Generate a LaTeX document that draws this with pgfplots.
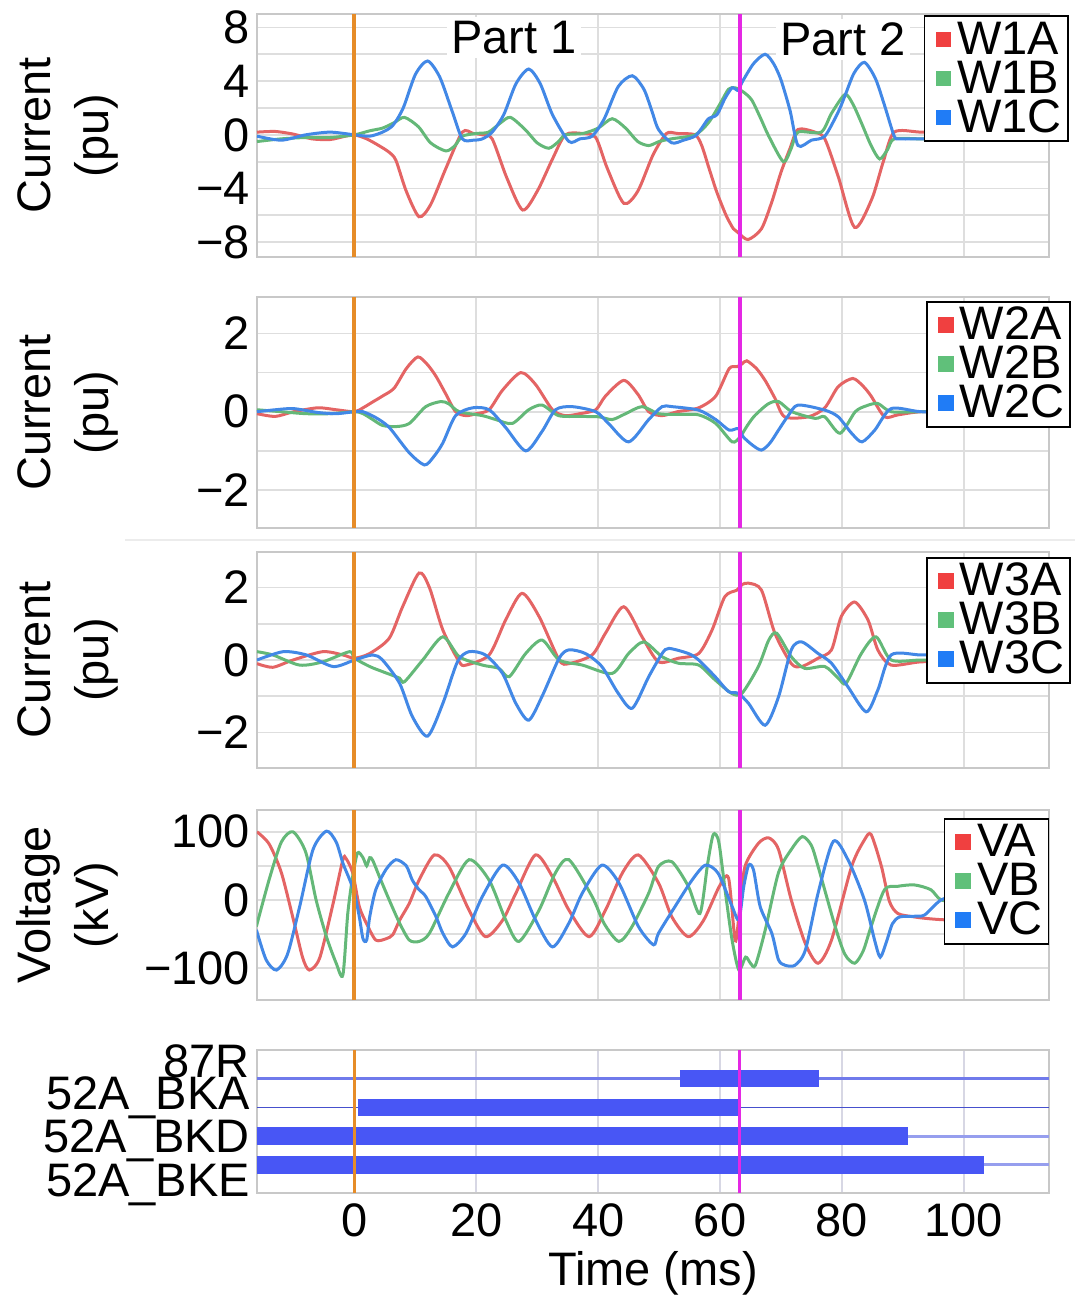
\documentclass[border=0pt]{standalone}
\usepackage{fontspec}
\setmainfont{Liberation Sans}
\usepackage{pgfplots}
\pgfplotsset{compat=1.18}
\definecolor{cR}{RGB}{228,100,100}
\definecolor{cG}{RGB}{100,184,120}
\definecolor{cB}{RGB}{66,136,230}
\definecolor{lR}{RGB}{240,64,64}
\definecolor{lG}{RGB}{96,192,122}
\definecolor{lB}{RGB}{32,124,246}
\definecolor{cO}{RGB}{230,140,40}
\definecolor{cM}{RGB}{228,40,228}
\definecolor{gridc}{RGB}{222,222,222}
\definecolor{framec}{RGB}{200,200,200}
\definecolor{barc}{RGB}{72,86,245}
\definecolor{rowA}{RGB}{112,122,235}
\definecolor{rowB}{RGB}{70,80,205}
\definecolor{rowC}{RGB}{150,158,238}
\definecolor{gridv}{RGB}{215,215,228}
\pgfplotsset{
  panel/.style={
    scale only axis, width=396pt, xmin=-16, xmax=114,
    xtick={0,20,40,60,80,100}, xmajorgrids,
    major tick length=0pt, minor tick length=0pt,
    grid style={draw=gridc, line width=0.9pt},
    minor grid style={draw=gridc, line width=0.9pt},
    axis line style={draw=framec, line width=1.1pt},
    /pgf/number format/assume math mode=true,
    anchor=north west,
    ylabel style={at={(axis description cs:-0.239,0.5)}, anchor=center, align=center, font=\fontsize{23.5}{29}\selectfont},
    legend style={anchor=north west, draw=black, line width=0.8pt, fill=white,
      inner xsep=2pt, inner ysep=2pt,
      nodes={inner xsep=1pt, inner ysep=0pt, text height=17pt, text depth=2.5pt},
      cells={anchor=west}, row sep=0pt},
  },
  curve/.style={smooth, tension=0.45, line width=1.5pt, no marks, forget plot},
  vline/.style={line width=2pt, no marks, forget plot},
  sq/.style={legend image code/.code={\path (-3.5pt,0pt) (9pt,0pt); \fill[#1] (0pt,-3.5pt) rectangle (7pt,3.5pt);}},
}
\begin{document}
\begin{tikzpicture}[font=\fontsize{23.5}{28}\selectfont]
\useasboundingbox (-128.5pt,7pt) rectangle (416pt,-641pt);
\draw[gray!15, line width=1pt] (-66pt,-263pt) -- (409pt,-263pt);
% ---------------- Panel 1
\begin{axis}[panel, at={(0pt,0pt)}, height=121.5pt, ymin=-9.1, ymax=9,
  ytick={-8,-4,0,4,8}, yticklabels={−8,−4,0,4,8}, minor ytick={-6,-2,2,6},
  ymajorgrids, yminorgrids, xticklabels={}, ylabel={Current\\(pu)},
  legend style={at={(0.842,0.995)}}]
\addplot[curve, cR] coordinates {(-16,0.2) (-13,0.25) (-10,0.05) (-7,-0.3) (-4,-0.35) (-1.5,-0.1) (0,0) (2,-0.3) (4,-0.8) (5.7,-1.3) (6.8,-1.9) (8.5,-4.2) (10.6,-6.1) (12.5,-5.2) (15,-2.5) (17.7,0.2) (19.5,0.1) (21,0) (22.6,-0.3) (25,-3.2) (27.6,-5.6) (30,-4.2) (32.5,-1.8) (34.6,0) (37.4,0.1) (39.6,-0.2) (41.5,-2.5) (44.2,-5.1) (46.5,-4.2) (49,-1.5) (51.2,0.1) (53,0.1) (55.9,0) (57,-0.8) (58.2,-2.5) (59.5,-4.3) (61,-6) (62.2,-7.0) (63,-7.3) (64.6,-7.8) (66.8,-7.0) (68.5,-5) (70,-2.8) (71.5,-1) (72.8,0.4) (75.6,0.2) (77.2,-0.3) (79.4,-3.1) (82.1,-6.9) (84.9,-4.8) (86.8,-2) (88.6,0.2) (93,0.2) (100,0.1)};
\addplot[curve, cG] coordinates {(-16,-0.5) (-12,-0.3) (-8,-0.2) (-4,-0.2) (0,0) (2.5,0.3) (4.6,0.5) (6.5,0.9) (8.2,1.3) (10.5,0.6) (12.5,-0.6) (15,-1.2) (16.5,-0.8) (17.7,-0.1) (20,0.1) (22,0.2) (24,0.9) (25.6,1.3) (28,0.4) (30,-0.6) (31.9,-1.0) (33.5,-0.5) (34.6,0) (37.5,0.1) (40,0.5) (42.3,1.2) (44.5,0.5) (46.5,-0.5) (48.3,-0.8) (50,-0.5) (52,-0.3) (55.9,0) (58.1,0.9) (60,2.3) (61.4,3.4) (62.5,3.5) (63.8,3.2) (65.2,2.6) (66.7,1.2) (68,-0.1) (70.4,-2.0) (71.7,-1.0) (72.8,0.2) (76.6,0.2) (78.3,1.6) (80.5,3.0) (81.8,2.3) (83.2,0.9) (84.8,-0.8) (86.2,-1.8) (87.5,-1.1) (88.6,-0.3) (93,-0.3) (100,-0.3)};
\addplot[curve, cB] coordinates {(-16,-0.1) (-12,-0.4) (-8,0) (-4,0.2) (0,0) (2.5,-0.1) (4.6,0.2) (6.3,0.7) (8,2.0) (10,4.5) (12,5.5) (14,4.3) (16,1.8) (17.7,-0.3) (19.5,-0.4) (21,-0.3) (22.6,0.2) (24.5,1.5) (26.5,3.8) (28.6,4.9) (30.5,3.8) (32.5,1.5) (35.2,-0.5) (37,-0.3) (39,-0.1) (41,1.2) (43.3,3.6) (45.6,4.4) (47.5,3.4) (48.8,1.8) (49.9,0.4) (52.1,-0.6) (54,-0.4) (55.9,-0.1) (57,0.5) (58.1,1.2) (59.5,1.5) (60.8,2.7) (62,3.5) (63,3.3) (63.6,3.9) (65.5,5.3) (67.4,6.0) (68.8,5.3) (70,4.1) (71.5,1.8) (72.8,-0.8) (75,-0.4) (77.2,-0.1) (79.4,1.7) (80.5,2.9) (82,4.6) (83.7,5.4) (85.5,4.2) (87,2.2) (88.6,-0.1) (89.5,-0.3) (93,-0.3) (100,-0.3)};
\addplot[vline, cO] coordinates {(0,-9.1) (0,9)};
\addplot[vline, cM] coordinates {(63.2,-9.1) (63.2,9)};
\node[fill=white, inner sep=2pt] at (axis cs:26.2,7.24) {Part 1};
\node[fill=white, inner sep=2pt] at (axis cs:80.2,7.1) {Part 2};
\addlegendimage{sq=lR}
\addlegendentry{W1A}
\addlegendimage{sq=lG}
\addlegendentry{W1B}
\addlegendimage{sq=lB}
\addlegendentry{W1C}
\end{axis}
% ---------------- Panel 2
\begin{axis}[panel, at={(0pt,-141.5pt)}, height=115.5pt, ymin=-2.97, ymax=2.93,
  ytick={-2,0,2}, yticklabels={−2,0,2}, minor ytick={-1,1},
  ymajorgrids, yminorgrids, xticklabels={}, ylabel={Current\\(pu)},
  legend style={at={(0.845,0.983)}}]
\addplot[curve, cR] coordinates {(-16,-0.05) (-13,-0.12) (-10,0) (-6,0.1) (-3,0.05) (0,0) (1.4,0.1) (3,0.25) (4.6,0.4) (6.5,0.6) (8.5,1.1) (10.4,1.4) (12,1.2) (13.4,0.9) (15,0.45) (16.6,0) (18.3,-0.1) (20,-0.05) (22.1,0.05) (24.3,0.55) (27.3,1.0) (29.7,0.7) (32.5,0.05) (34.6,-0.1) (37,-0.05) (39.6,0.05) (41.2,0.4) (44.2,0.8) (46.5,0.45) (48.3,0) (50.5,-0.1) (53,0) (56.5,0.1) (59.3,0.4) (61.5,1.1) (62.8,1.15) (63.6,1.22) (64.4,1.3) (66,1.1) (67.4,0.8) (69,0.35) (70.6,-0.13) (74.5,-0.13) (77.2,0.1) (79.4,0.64) (81.8,0.85) (83.5,0.65) (84.8,0.4) (87,-0.13) (89.2,-0.08) (93,0) (100,0)};
\addplot[curve, cG] coordinates {(-16,0.05) (-12,0) (-8,-0.05) (-4,-0.05) (0,0) (1.4,-0.05) (3,-0.2) (4.6,-0.35) (6.8,-0.38) (9,-0.3) (11.7,0.13) (14.2,0.26) (15.5,0.2) (17.2,0) (21,-0.1) (23.2,-0.2) (25.9,-0.3) (28.6,0.05) (30.8,0.17) (33.5,-0.1) (37,-0.12) (40.1,-0.13) (42.3,-0.2) (44.5,-0.05) (47.2,0.13) (49.9,-0.05) (53,-0.07) (56.5,-0.08) (59.3,-0.3) (62,-0.77) (63.3,-0.64) (64.5,-0.35) (65.7,-0.1) (67.9,0.2) (69.6,0.26) (71.8,0) (75.6,-0.17) (77.2,-0.13) (79.7,-0.55) (82.2,0) (84,0.15) (85.9,0.21) (88.1,0) (93,0) (100,0)};
\addplot[curve, cB] coordinates {(-16,0) (-13,0.05) (-10,0.08) (-6,-0.02) (-3,-0.05) (0,0) (1.4,0) (3.5,-0.15) (5.7,-0.4) (9,-1.05) (11.5,-1.36) (13,-1.15) (14.5,-0.8) (16.6,-0.1) (19.4,0.1) (22.1,0.05) (24.8,-0.4) (28.1,-1.0) (30.8,-0.5) (33,0.05) (35.7,0.13) (39.6,0) (41.7,-0.3) (45,-0.77) (48.3,-0.2) (50.5,0.13) (52.1,0.13) (56.5,0.04) (59.3,-0.2) (61.5,-0.47) (63,-0.43) (63.8,-0.64) (65.3,-0.85) (66.8,-0.98) (68.2,-0.8) (69.6,-0.47) (71.2,-0.1) (72.8,0.17) (77.2,0.04) (79.4,-0.13) (81.6,-0.55) (83.3,-0.77) (85.4,-0.47) (88.1,0.08) (93,0) (100,0)};
\addplot[vline, cO] coordinates {(0,-2.97) (0,2.93)};
\addplot[vline, cM] coordinates {(63.2,-2.97) (63.2,2.93)};
\addlegendimage{sq=lR}
\addlegendentry{W2A}
\addlegendimage{sq=lG}
\addlegendentry{W2B}
\addlegendimage{sq=lB}
\addlegendentry{W2C}
\end{axis}
% ---------------- Panel 3
\begin{axis}[panel, at={(0pt,-269pt)}, height=108pt, ymin=-2.98, ymax=2.98,
  ytick={-2,0,2}, yticklabels={−2,0,2}, minor ytick={-1,1},
  ymajorgrids, yminorgrids, xticklabels={}, ylabel={Current\\(pu)},
  legend style={at={(0.845,0.977)}}]
\addplot[curve, cR] coordinates {(-16,-0.1) (-13.4,-0.2) (-10.1,0) (-5.2,0.23) (-1.9,0.14) (0,0.05) (2.5,0.18) (5.7,0.6) (7.9,1.47) (10.6,2.4) (12.3,2.0) (14.5,0.83) (17.2,-0.05) (18.3,-0.14) (22.1,0.14) (24.8,1.1) (27.5,1.84) (30.3,1.2) (33.6,0) (35.2,-0.1) (39,0.14) (41.2,0.74) (44.2,1.47) (47.2,0.64) (49.9,-0.05) (53.2,0.05) (56.5,0.18) (58.7,0.83) (60.8,1.75) (62.8,1.93) (63.6,2.08) (64.7,2.12) (66.8,1.93) (69,0.74) (71.7,-0.1) (73.4,-0.18) (76.1,0.05) (78.3,0.28) (79.9,1.2) (82.1,1.6) (84.3,1.1) (85.9,0.28) (88.1,-0.14) (93,-0.05) (100,-0.05)};
\addplot[curve, cG] coordinates {(-16,0.23) (-13.4,0.14) (-9,-0.14) (-5.2,-0.05) (-0.8,0.23) (0,0.05) (2.5,-0.18) (4.6,-0.32) (7.4,-0.5) (8.2,-0.6) (11.2,0) (14.5,0.64) (17.2,0.09) (21,-0.14) (23.7,-0.23) (25.4,-0.46) (28.1,0.18) (30.8,0.55) (33.6,0) (37.4,-0.14) (42.3,-0.37) (45,0.18) (47.5,0.5) (50.5,0.09) (53.2,-0.09) (56.5,-0.14) (59.2,-0.55) (61.9,-0.92) (63.6,-0.92) (66.3,-0.18) (68,0.55) (69.3,0.74) (71.7,0.09) (73.9,-0.23) (77.2,-0.18) (79.4,-0.5) (80.7,-0.64) (83.2,0.18) (85.6,0.64) (88.1,0) (93,0) (100,0)};
\addplot[curve, cB] coordinates {(-16,0) (-11.7,0.23) (-7.9,0.14) (-3.5,-0.18) (0,0) (3,0.14) (4.6,0) (7.4,-0.64) (9.5,-1.56) (12,-2.1) (14.5,-1.2) (16.9,-0.05) (18.8,0.23) (21.5,0.14) (24.3,-0.37) (26.5,-1.2) (28.6,-1.66) (30.8,-1.0) (33.6,0.05) (35.2,0.28) (37.9,0.18) (40.6,-0.18) (43.3,-0.92) (45.6,-1.33) (48.3,-0.46) (50.5,0.18) (51.6,0.32) (54.8,0.18) (56.5,0) (59.2,-0.46) (61.4,-0.87) (63,-0.92) (64.7,-1.2) (67.4,-1.8) (69.6,-1.02) (71.7,0.28) (73.4,0.5) (76.1,0.18) (78.3,-0.09) (81,-0.74) (84,-1.43) (85.9,-0.83) (88.1,0.14) (93,0.14) (100,0.14)};
\addplot[vline, cO] coordinates {(0,-2.98) (0,2.98)};
\addplot[vline, cM] coordinates {(63.2,-2.98) (63.2,2.98)};
\addlegendimage{sq=lR}
\addlegendentry{W3A}
\addlegendimage{sq=lG}
\addlegendentry{W3B}
\addlegendimage{sq=lB}
\addlegendentry{W3C}
\end{axis}
% ---------------- Panel 4
\begin{axis}[panel, at={(0pt,-398pt)}, height=95pt, ymin=-147, ymax=132,
  ytick={-100,0,100}, yticklabels={−100,0,100}, minor ytick={-50,50},
  ymajorgrids, yminorgrids, xticklabels={}, ylabel={Voltage\\(kV)},
  legend style={at={(0.867,0.958)}}]
\addplot[curve, cR] coordinates {(-16,100) (-14,82) (-12,40) (-10,-30) (-8.5,-85) (-7.4,-103) (-5.7,-85) (-3.5,-5) (-1.9,59) (-1.4,61) (-0.3,40) (0.8,-10) (2,-35) (3.5,-59) (5.2,-57) (6.3,-51) (7.4,-30) (9,-5) (10.6,29) (13.1,66) (15.5,49) (18.8,-15) (21.5,-54) (24.3,-30) (26.5,10) (29.7,66) (32.5,34) (35.2,-15) (38.5,-54) (41.2,-15) (44,40) (46.6,66) (49.9,25) (52.1,-25) (54.8,-54) (57.3,-30) (59.9,20) (61.4,32) (62.5,-60) (63.2,-15) (64.1,49) (66.3,83) (68,91) (69.6,74) (71.7,0) (74,-64) (76.1,-93) (78.3,-59) (81.6,49) (83.7,88) (84.8,96) (86.5,49) (87.8,-2) (89.2,-20) (91.9,-25) (93.6,-27) (96.3,-29) (100,-30)};
\addplot[curve, cG] coordinates {(-16.1,-39) (-14,30) (-12,85) (-10.1,100) (-8,70) (-6.3,0) (-4.6,-54) (-3,-93) (-1.9,-110) (-1.1,-20) (-0.3,34) (0.5,69) (1.4,62) (2,50) (2.5,62) (3,58) (4.1,34) (5.7,0) (7.4,-34) (9,-59) (10.6,-61) (12.3,-49) (15.5,10) (18.8,59) (22.1,29) (24.8,-29) (27,-61) (30.3,-15) (33,40) (35.2,59) (39,5) (41,-35) (43.4,-61) (45.5,-40) (48.3,10) (49.9,49) (52.1,56) (54.8,20) (56.7,-20) (58,55) (58.9,96) (59.8,85) (60.9,10) (62,-60) (63.1,-103) (64.2,-84) (65,-93) (65.8,-96) (67.4,-45) (69.6,40) (71.7,74) (73.5,93) (75,80) (76.1,49) (78.9,-39) (80.5,-80) (82.1,-93) (83.5,-75) (84.8,-39) (87,15) (89.2,20) (91.9,22) (94.6,15) (96.3,0) (100,-5)};
\addplot[curve, cB] coordinates {(-16.1,-44) (-14.5,-88) (-12.8,-103) (-11,-80) (-9,-10) (-6.8,74) (-4.6,101) (-3,85) (-1.9,54) (-0.8,30) (0,10) (0.8,-25) (1.4,-57) (2,-59) (2.5,-25) (3.5,15) (5.2,45) (6.8,59) (8.5,50) (9.5,29) (10.6,15) (11.7,5) (13.4,-25) (14.5,-49) (16.1,-69) (18.3,-49) (21,5) (24.3,51) (27,25) (29.7,-29) (32.5,-69) (35.2,-34) (37.4,10) (40.6,51) (43.4,25) (46.6,-39) (49.1,-66) (49.9,-49) (52.6,-10) (55.4,29) (57.6,51) (59.7,39) (62,-10) (63.1,-29) (63.9,20) (64.7,51) (65.5,44) (66.6,-10) (68.5,-49) (69.6,-88) (70.7,-96) (72.3,-96) (74,-74) (76.1,10) (78.6,86) (81,59) (83.7,0) (85.4,-60) (86.3,-84) (87.3,-62) (88.3,-35) (89.5,-25) (91.9,-24) (93.6,-22) (96.3,0) (100,10)};
\addplot[vline, cO] coordinates {(0,-147) (0,132)};
\addplot[vline, cM] coordinates {(63.2,-147) (63.2,132)};
\addlegendimage{sq=lR}
\addlegendentry{VA}
\addlegendimage{sq=lG}
\addlegendentry{VB}
\addlegendimage{sq=lB}
\addlegendentry{VC}
\end{axis}
% ---------------- Panel 5
\begin{axis}[panel, at={(0pt,-518pt)}, height=71.5pt, ymin=-0.98, ymax=4.0,
  grid style={draw=gridv, line width=0.9pt},
  ytick={-0.7,0.84,2.33,3.59}, yticklabels={52A\_BKE,52A\_BKD,52A\_BKA,87R},
  xticklabels={0,20,40,60,80,100}, xticklabel style={yshift=-2pt}, xlabel={Time (ms)},
  xlabel style={at={(axis description cs:0.5,-0.56)}, anchor=center}]
\addplot[line width=1.3pt, rowA, forget plot] coordinates {(-16,3) (114,3)};
\addplot[line width=0.8pt, rowB, forget plot] coordinates {(-16,2) (114,2)};
\addplot[line width=1.6pt, rowC, forget plot] coordinates {(-16,1) (114,1)};
\addplot[line width=1.6pt, rowC, forget plot] coordinates {(-16,0) (114,0)};
\addplot[line width=8.5pt, barc, forget plot] coordinates {(53.4,3) (76.3,3)};
\addplot[line width=8.5pt, barc, forget plot] coordinates {(0.5,2) (63.2,2)};
\addplot[line width=9pt, barc, forget plot] coordinates {(-16,1) (90.8,1)};
\addplot[line width=9pt, barc, forget plot] coordinates {(-16,0) (103.4,0)};
\addplot[line width=1.1pt, cO, forget plot] coordinates {(0,-0.98) (0,4)};
\addplot[line width=1.4pt, cM, forget plot] coordinates {(63.2,-0.98) (63.2,4)};
\end{axis}
\end{tikzpicture}
\end{document}
